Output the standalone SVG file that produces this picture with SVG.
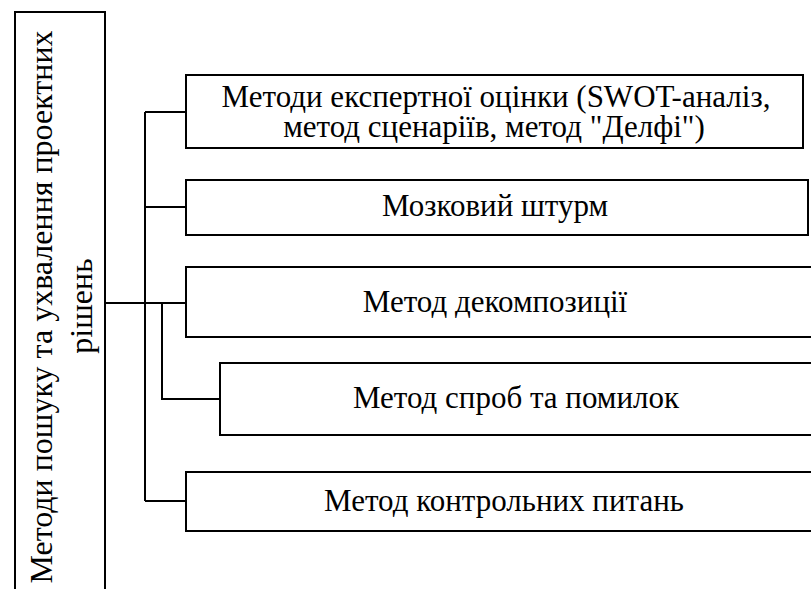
<svg xmlns="http://www.w3.org/2000/svg" width="811" height="589" viewBox="0 0 811 589">
  <style>
    .box { fill: #ffffff; stroke: #000000; stroke-width: 2; }
    .wire { fill: none; stroke: #000000; stroke-width: 2; }
    .lbl { font-family: "Liberation Serif", "Times New Roman", serif; font-size: 31px; fill: #000000; text-anchor: middle; }
    .vlbl { font-family: "Liberation Serif", "Times New Roman", serif; font-size: 32px; fill: #000000; text-anchor: middle; }
  </style>
  <rect x="0" y="0" width="811" height="589" fill="#ffffff"/>

  <!-- connectors: tree bus from the root box to each method box -->
  <g id="connectors">
    <path class="wire" d="M105,303 H186"/>
    <path class="wire" d="M145,112 V501"/>
    <path class="wire" d="M145,112 H186"/>
    <path class="wire" d="M145,207 H186"/>
    <path class="wire" d="M145,501 H186"/>
    <path class="wire" d="M162,303 V399 H220"/>
  </g>

  <!-- root node, text turned to read bottom-to-top -->
  <g id="root">
    <rect class="box" x="15" y="12" width="90" height="600"/>
    <text class="vlbl" transform="translate(52,307) rotate(-90)">Методи пошуку та ухвалення проектних</text>
    <text class="vlbl" transform="translate(92,306) rotate(-90)">рішень</text>
  </g>

  <g id="expert">
    <rect class="box" x="186" y="75" width="617" height="73"/>
    <text class="lbl" x="496" y="107">Методи експертної оцінки (SWOT-аналіз,</text>
    <text class="lbl" x="494" y="137">метод сценаріїв, метод "Делфі")</text>
  </g>

  <g id="brainstorm">
    <rect class="box" x="186" y="180" width="622" height="55"/>
    <text class="lbl" x="495" y="216">Мозковий штурм</text>
  </g>

  <g id="decomposition">
    <rect class="box" x="186" y="267" width="640" height="70"/>
    <text class="lbl" x="495" y="312">Метод декомпозиції</text>
  </g>

  <g id="trial">
    <rect class="box" x="220" y="363" width="606" height="72"/>
    <text class="lbl" x="516" y="408">Метод спроб та помилок</text>
  </g>

  <g id="questions">
    <rect class="box" x="186" y="472" width="640" height="59"/>
    <text class="lbl" x="504" y="511">Метод контрольних питань</text>
  </g>
</svg>
